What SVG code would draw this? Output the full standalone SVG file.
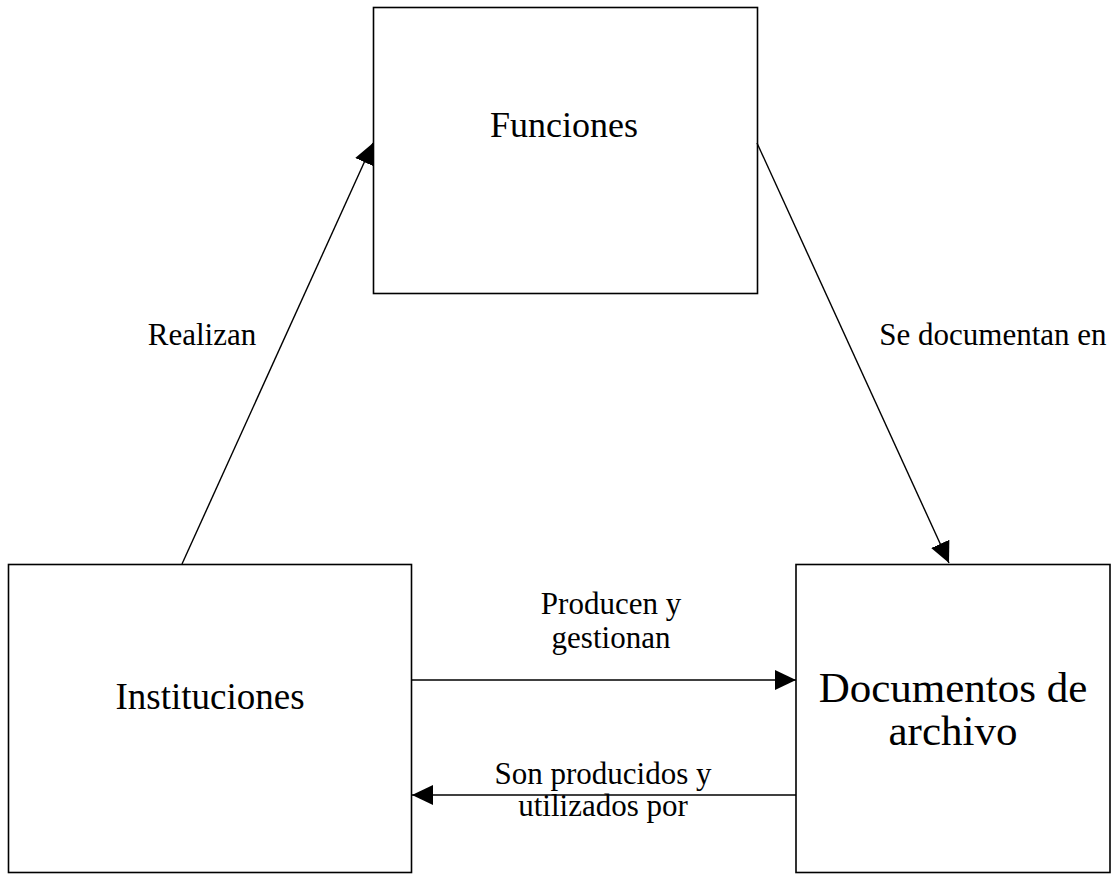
<svg xmlns="http://www.w3.org/2000/svg" width="1118" height="881" viewBox="0 0 1118 881">
<style>
.box{fill:#fff;stroke:#000;stroke-width:1.6}
.ln{stroke:#000;stroke-width:1.4;fill:none;marker-end:url(#ah)}
.big{font-family:"Liberation Serif","Times New Roman",serif;font-size:36px;fill:#000;text-anchor:middle}
.lbl{font-family:"Liberation Serif","Times New Roman",serif;font-size:31px;fill:#000;text-anchor:middle}
</style>
<defs>
<marker id="ah" markerUnits="userSpaceOnUse" markerWidth="24" markerHeight="22" refX="21" refY="10" orient="auto">
<path d="M0,0 L21,10 L0,20 Z" fill="#000"/>
</marker>
</defs>
<rect width="1118" height="881" fill="#fff"/>
<g id="funciones">
<rect class="box" x="373.5" y="7.5" width="384" height="286"/>
<text class="big" x="564" y="137">Funciones</text>
</g>
<g id="instituciones">
<rect class="box" x="8.5" y="564.5" width="403" height="308"/>
<text class="big" x="210" y="709" style="font-size:37px">Instituciones</text>
</g>
<g id="documentos">
<rect class="box" x="796" y="564.5" width="314" height="308"/>
<text class="big" x="953" y="702" style="font-size:43px">Documentos de</text>
<text class="big" x="953" y="745" style="font-size:43px">archivo</text>
</g>
<g id="connectors">
<line class="ln" x1="182" y1="564" x2="373" y2="143"/>
<line class="ln" x1="757" y1="143" x2="949" y2="563"/>
<line class="ln" x1="412" y1="680" x2="796" y2="680"/>
<line class="ln" x1="796" y1="795" x2="412" y2="795"/>
</g>
<g id="labels">
<text class="lbl" x="202" y="345">Realizan</text>
<text class="lbl" x="993" y="345">Se documentan en</text>
<text class="lbl" x="611" y="614">Producen y</text>
<text class="lbl" x="611" y="648">gestionan</text>
<text class="lbl" x="603" y="784">Son producidos y</text>
<text class="lbl" x="603" y="816">utilizados por</text>
</g>
</svg>
